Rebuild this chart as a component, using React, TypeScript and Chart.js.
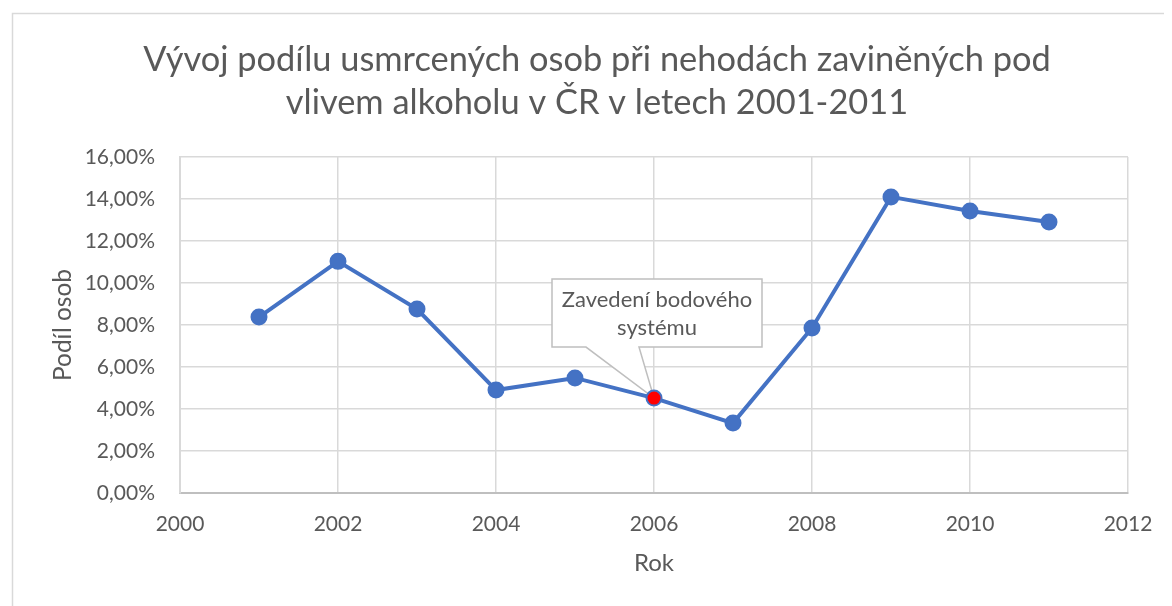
import React, { useEffect, useRef } from "react";
import { Chart, registerables } from "chart.js";

Chart.register(...registerables);

const years = [2001, 2002, 2003, 2004, 2005, 2006, 2007, 2008, 2009, 2010, 2011];
const shares = [0.0838, 0.1103, 0.0876, 0.049, 0.0548, 0.0452, 0.0333, 0.0786, 0.141, 0.1343, 0.129];
const titleLines = [
  "Vývoj podílu usmrcených osob při nehodách zaviněných pod",
  "vlivem alkoholu v ČR v letech 2001-2011",
];
const xAxisTitle = "Rok";
const yAxisTitle = "Podíl osob";
const calloutLines = ["Zavedení bodového", "systému"];
const calloutIndex = 5;
const xRange = [2000, 2012];
const yRange = [0, 0.16];

const FONT = "Lato, 'Open Sans', sans-serif";
const GREY = "#595959";
const BLUE = "#4472C4";

const framePlugin = {
  id: "frame",
  beforeDraw(chart: any) {
    const ctx = chart.ctx;
    ctx.save();
    ctx.fillStyle = "#ffffff";
    ctx.fillRect(0, 0, chart.width, chart.height);
    ctx.strokeStyle = "#d9d9d9";
    ctx.lineWidth = 1.5;
    ctx.beginPath();
    ctx.moveTo(4.5, chart.height + 5);
    ctx.lineTo(4.5, 5.5);
    ctx.lineTo(chart.width + 5, 5.5);
    ctx.stroke();
    // title
    ctx.fillStyle = GREY;
    ctx.font = `34.4px ${FONT}`;
    ctx.textAlign = "center";
    ctx.textBaseline = "middle";
    ctx.fillText(titleLines[0], 589, 52);
    ctx.fillText(titleLines[1], 589, 95);
    ctx.restore();
  },
};

const calloutPlugin = {
  id: "callout",
  beforeDatasetsDraw(chart: any) {
    const ctx = chart.ctx;
    const xs = chart.scales.x;
    const ys = chart.scales.y;
    const px = xs.getPixelForValue(years[calloutIndex]);
    const py = ys.getPixelForValue(shares[calloutIndex]);
    const l = px - 102, r = px + 108, t = py - 119, b = py - 51;
    const b1 = px - 68, b2 = px - 15;
    ctx.save();
    ctx.beginPath();
    ctx.moveTo(l, t);
    ctx.lineTo(r, t);
    ctx.lineTo(r, b);
    ctx.lineTo(b2, b);
    ctx.lineTo(px, py);
    ctx.lineTo(b1, b);
    ctx.lineTo(l, b);
    ctx.closePath();
    ctx.fillStyle = "#ffffff";
    ctx.fill();
    ctx.strokeStyle = "#bfbfbf";
    ctx.lineWidth = 1.5;
    ctx.stroke();
    ctx.fillStyle = GREY;
    ctx.font = `22px ${FONT}`;
    ctx.textAlign = "center";
    ctx.textBaseline = "middle";
    const cx = (l + r) / 2;
    ctx.fillText(calloutLines[0], cx, t + 21);
    ctx.fillText(calloutLines[1], cx, t + 49);
    ctx.restore();
  },
};

export default function App() {
  const ref = useRef<HTMLCanvasElement | null>(null);
  useEffect(() => {
    if (!ref.current) return;
    const chart = new Chart(ref.current, {
      type: "line",
      data: {
        datasets: [
          {
            data: years.map((y, i) => ({ x: y, y: shares[i] })),
            borderColor: BLUE,
            borderWidth: 4,
            pointRadius: 7.5,
            pointBorderWidth: 2,
            pointBorderColor: BLUE,
            pointBackgroundColor: years.map((_, i) => (i === calloutIndex ? "#ff0000" : BLUE)),
            tension: 0,
          },
        ],
      },
      options: {
        animation: false,
        responsive: false,
        devicePixelRatio: 1,
        layout: { padding: { left: 0, right: 44, top: 149, bottom: 0 } },
        plugins: { legend: { display: false }, tooltip: { enabled: false }, title: { display: false } },
        scales: {
          x: {
            type: "linear",
            min: xRange[0],
            max: xRange[1],
            grid: { color: "#d9d9d9", lineWidth: 1.5, drawTicks: false },
            border: { color: "#bfbfbf", width: 2 },
            ticks: {
              stepSize: 2,
              padding: 19,
              color: GREY,
              font: { family: FONT, size: 21 },
              callback: (v: any) => String(v),
            },
            title: {
              display: true,
              text: xAxisTitle,
              color: GREY,
              font: { family: FONT, size: 24 },
              padding: { top: 0, bottom: 28 },
            },
            afterFit: (s: any) => {
              s.height = 598 - 149 - 336;
            },
          },
          y: {
            min: yRange[0],
            max: yRange[1],
            grid: { color: "#d9d9d9", lineWidth: 1.5, drawTicks: false },
            border: { color: "#d9d9d9", width: 2 },
            ticks: {
              stepSize: 0.02,
              padding: 25,
              color: GREY,
              font: { family: FONT, size: 21 },
              callback: (v: any) => (Number(v) * 100).toFixed(2).replace(".", ",") + "%",
            },
            title: {
              display: true,
              text: yAxisTitle,
              color: GREY,
              font: { family: FONT, size: 24.5 },
              padding: { top: 40, bottom: 0 },
            },
            afterFit: (s: any) => {
              s.width = 172;
            },
          },
        },
      },
      plugins: [framePlugin, calloutPlugin],
    });
    return () => chart.destroy();
  }, []);
  return <canvas ref={ref} width={1164} height={598} style={{ display: "block" }} />;
}
